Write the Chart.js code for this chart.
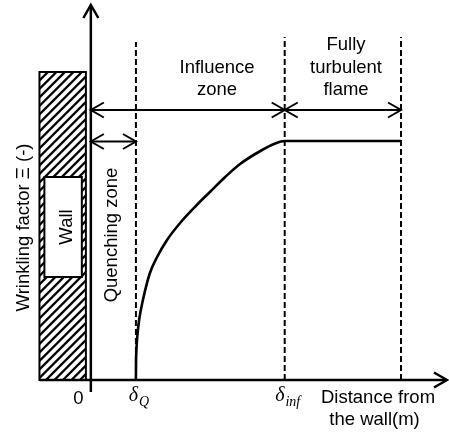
<!DOCTYPE html>
<html>
<head>
<meta charset="utf-8">
<title>Wrinkling factor near the wall</title>
<script src="https://cdn.jsdelivr.net/npm/chart.js@4.4.1/dist/chart.umd.min.js"></script>
<style>
  html, body { margin: 0; padding: 0; background: #fff; }
  canvas { display: block; }
</style>
</head>
<body>
<canvas id="wrinklingChart" width="449" height="432"></canvas>
<script>
// Zone boundaries: quenching distance, influence distance, end of the fully turbulent region
const zoneBounds = [1.0, 4.3, 6.88];
const boundTops = [3.38, 3.43, 3.43];

// Wrinkling factor profile vs distance from the wall
const distance = [1.0, 1.002, 1.011, 1.033, 1.071, 1.155, 1.31, 1.47, 1.69, 1.98, 2.35, 2.64, 2.98, 3.31, 3.76, 4.09, 4.3, 6.88];
const wrinkling = [0, 0.15, 0.30, 0.45, 0.60, 0.80, 1.07, 1.23, 1.40, 1.57, 1.75, 1.88, 2.03, 2.16, 2.29, 2.365, 2.39, 2.39];

// Labels under the horizontal axis
const tickValues = [0, zoneBounds[0], zoneBounds[1]];
const tickMain = ['0', 'δ', 'δ'];
const tickSub = ['', 'Q', 'inf'];

const SANS = '"Liberation Sans", Arial, sans-serif';
const SERIF = '"Liberation Serif", "Times New Roman", serif';

function chevron(ctx, x0, y0, dir, vertical) {
    // open arrow head, tip at (x0, y0)
    ctx.beginPath();
    if (vertical) {
        ctx.moveTo(x0 - 7.5, y0 + 13 * dir);
        ctx.lineTo(x0, y0);
        ctx.lineTo(x0 + 7.5, y0 + 13 * dir);
    } else {
        ctx.moveTo(x0 - 13 * dir, y0 - 7.5);
        ctx.lineTo(x0, y0);
        ctx.lineTo(x0 - 13 * dir, y0 + 7.5);
    }
    ctx.stroke();
}

function doubleArrow(ctx, xa, xb, yy) {
    ctx.beginPath();
    ctx.moveTo(xa, yy);
    ctx.lineTo(xb, yy);
    ctx.stroke();
    chevron(ctx, xa, yy, -1, false);
    chevron(ctx, xb, yy, 1, false);
}

function rotated(ctx, text, px, py) {
    ctx.save();
    ctx.translate(px, py);
    ctx.rotate(-Math.PI / 2);
    ctx.textAlign = 'center';
    ctx.textBaseline = 'alphabetic';
    ctx.fillText(text, 0, 0);
    ctx.restore();
}

const schematic = {
    id: 'schematic',
    beforeDatasetsDraw(chart) {
        const { ctx } = chart;
        const sx = chart.scales.x, sy = chart.scales.y;

        // hatched wall block
        const l = sx.getPixelForValue(-1.14), r = sx.getPixelForValue(-0.11);
        const t = sy.getPixelForValue(3.08), b = sy.getPixelForValue(0);
        ctx.save();
        ctx.strokeStyle = '#000';
        ctx.beginPath();
        ctx.rect(l, t, r - l, b - t);
        ctx.clip();
        ctx.lineWidth = 2.3;
        ctx.beginPath();
        const h = b - t;
        for (let k = l - h; k < r + 10; k += 8.5) {
            ctx.moveTo(k, b);
            ctx.lineTo(k + h, t);
        }
        ctx.stroke();
        ctx.restore();

        ctx.save();
        ctx.lineWidth = 2;
        ctx.strokeStyle = '#000';
        ctx.strokeRect(l, t, r - l, b - t);

        // inner label box
        const il = sx.getPixelForValue(-1.03), ir = sx.getPixelForValue(-0.2);
        const it = sy.getPixelForValue(2.03), ib = sy.getPixelForValue(1.03);
        ctx.fillStyle = '#fff';
        ctx.fillRect(il, it, ir - il, ib - it);
        ctx.strokeRect(il, it, ir - il, ib - it);

        ctx.fillStyle = '#000';
        ctx.font = '18.5px ' + SANS;
        rotated(ctx, 'Wall', ir - 10, (it + ib) / 2);
        ctx.restore();
    },
    afterDatasetsDraw(chart) {
        const { ctx } = chart;
        const sx = chart.scales.x, sy = chart.scales.y;
        const x0 = sx.getPixelForValue(0), y0 = sy.getPixelForValue(0);

        ctx.save();
        ctx.strokeStyle = '#000';
        ctx.fillStyle = '#000';
        ctx.lineCap = 'butt';

        // axes with open arrow heads
        ctx.lineWidth = 2.5;
        const yTop = sy.getPixelForValue(3.75);
        const xRight = sx.getPixelForValue(7.9);
        ctx.beginPath();
        ctx.moveTo(x0, sy.getPixelForValue(-0.12));
        ctx.lineTo(x0, yTop);
        ctx.moveTo(sx.getPixelForValue(-1.14), y0);
        ctx.lineTo(xRight, y0);
        ctx.stroke();
        chevron(ctx, x0, yTop, 1, true);
        chevron(ctx, xRight, y0, 1, false);

        // zone extent arrows
        ctx.lineWidth = 2;
        const xq = sx.getPixelForValue(zoneBounds[0]);
        const xi = sx.getPixelForValue(zoneBounds[1]);
        const xe = sx.getPixelForValue(zoneBounds[2]);
        const yUpper = sy.getPixelForValue(2.7);
        const yLower = sy.getPixelForValue(2.385);
        doubleArrow(ctx, x0, xi, yUpper);
        doubleArrow(ctx, xi, xe, yUpper);
        doubleArrow(ctx, x0, xq, yLower);

        // zone names
        ctx.font = '18.5px ' + SANS;
        ctx.textAlign = 'center';
        ctx.textBaseline = 'alphabetic';
        const xInf = sx.getPixelForValue(2.8);
        ctx.fillText('Influence', xInf, sy.getPixelForValue(3.07));
        ctx.fillText('zone', xInf, sy.getPixelForValue(2.85));
        const xFt = sx.getPixelForValue(5.66);
        ctx.fillText('Fully', xFt, sy.getPixelForValue(3.30));
        ctx.fillText('turbulent', xFt, sy.getPixelForValue(3.07));
        ctx.fillText('flame', xFt, sy.getPixelForValue(2.85));

        rotated(ctx, 'Quenching zone', sx.getPixelForValue(0.575), sy.getPixelForValue(1.45));
        rotated(ctx, 'Wrinkling factor Ξ (-)', 29, sy.getPixelForValue(1.525));

        // axis title
        ctx.fillText('Distance from', 378, y0 + 22.5);
        ctx.fillText('the wall(m)', 374.5, y0 + 45);

        // tick labels
        tickValues.forEach((v, i) => {
            const px = sx.getPixelForValue(v);
            if (!tickSub[i]) {
                ctx.font = '18.5px ' + SANS;
                ctx.textAlign = 'center';
                ctx.fillText(tickMain[i], px - 12.5, y0 + 24);
                return;
            }
            ctx.font = 'italic 20px ' + SERIF;
            const wMain = ctx.measureText(tickMain[i]).width;
            ctx.font = 'italic 14px ' + SERIF;
            const wSub = ctx.measureText(tickSub[i]).width;
            const start = px + 3 - (wMain + wSub + 1) / 2;
            ctx.textAlign = 'left';
            ctx.font = 'italic 20px ' + SERIF;
            ctx.fillText(tickMain[i], start, y0 + 21);
            ctx.font = 'italic 14px ' + SERIF;
            ctx.fillText(tickSub[i], start + wMain + 1, y0 + 26);
        });
        ctx.restore();
    }
};

const boundaryDatasets = zoneBounds.map((b, i) => ({
    data: [{ x: b, y: 0 }, { x: b, y: boundTops[i] }],
    showLine: true,
    borderColor: '#000',
    borderWidth: 2,
    borderDash: [6, 3],
    pointRadius: 0
}));

const ctx = document.getElementById('wrinklingChart').getContext('2d');
new Chart(ctx, {
    type: 'scatter',
    data: {
        datasets: [
            ...boundaryDatasets,
            {
                label: 'Wrinkling factor',
                data: distance.map((d, i) => ({ x: d, y: wrinkling[i] })),
                showLine: true,
                borderColor: '#000',
                borderWidth: 2.6,
                pointRadius: 0,
                cubicInterpolationMode: 'monotone'
            }
        ]
    },
    options: {
        responsive: false,
        animation: false,
        devicePixelRatio: 1,
        layout: { padding: { left: 39, right: 2, top: 5, bottom: 52 } },
        scales: {
            x: { type: 'linear', min: -1.15, max: 7.9, display: false },
            y: { type: 'linear', min: 0, max: 3.75, display: false }
        },
        plugins: {
            legend: { display: false },
            tooltip: { enabled: false }
        }
    },
    plugins: [schematic]
});
</script>
</body>
</html>
